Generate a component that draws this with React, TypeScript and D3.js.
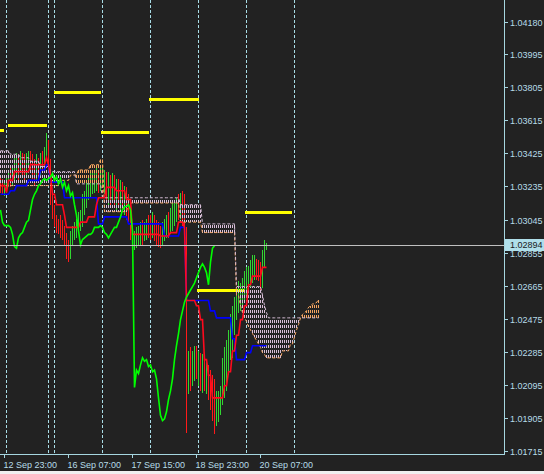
import React from "react";
import * as d3 from "d3";

const W = 544;
const H = 474;
const PLOT_R = 504;
const PLOT_B = 454;

// H1 bars, index 0 = 12 Sep 21:00
const closes = [
  1.0324, 1.0321, 1.0323, 1.0325, 1.0328, 1.0326, 1.0329, 1.0333, 1.0339, 1.0334,
  1.034, 1.0336, 1.0333, 1.0338, 1.0341, 1.0339, 1.0334, 1.0328, 1.0336, 1.0333,
  1.0339, 1.0336, 1.0342, 1.035, 1.0336, 1.0319, 1.031, 1.0303, 1.0301, 1.0301,
  1.0301, 1.03, 1.0296, 1.0289, 1.0288, 1.0294, 1.0296, 1.0297, 1.03, 1.0303,
  1.0304, 1.031, 1.0316, 1.0319, 1.0321, 1.0324, 1.0325, 1.0327, 1.0328, 1.0327,
  1.0328, 1.0329, 1.0331, 1.0327, 1.0329, 1.0325, 1.0328, 1.0323, 1.0326, 1.0321,
  1.0324, 1.0318, 1.032, 1.0313, 1.0307, 1.0298, 1.029, 1.0293, 1.0294, 1.0295,
  1.0296, 1.0296, 1.0297, 1.03, 1.03, 1.03, 1.0301, 1.03, 1.0297, 1.0296,
  1.0294, 1.0296, 1.0298, 1.03, 1.03, 1.0303, 1.0306, 1.031, 1.0312, 1.0312,
  1.0313, 1.031, 1.0298, 1.0208, 1.0218, 1.0216, 1.0221, 1.0225, 1.0223, 1.0224,
  1.022, 1.0221, 1.0217, 1.0218, 1.0213, 1.0202, 1.0192, 1.0189, 1.019, 1.0194,
  1.0201, 1.0206, 1.0213, 1.0224, 1.0232, 1.0239, 1.0247, 1.0252, 1.0257, 1.026,
  1.0262, 1.0264, 1.0266, 1.0268, 1.0271, 1.0274, 1.0277, 1.0279, 1.0277, 1.0274,
  1.0267, 1.028, 1.0288, 1.02894,
];

const highs = [
  1.033, 1.0328, 1.0327, 1.033, 1.0333, 1.0336, 1.0334, 1.034, 1.0343, 1.0342,
  1.0344, 1.0343, 1.0342, 1.0343, 1.0344, 1.0344, 1.0342, 1.0339, 1.0342, 1.034,
  1.0343, 1.0344, 1.0346, 1.0354, 1.035, 1.0339, 1.0321, 1.0313, 1.0307, 1.0305,
  1.0307, 1.0304, 1.0301, 1.0297, 1.0293, 1.0298, 1.0301, 1.0303, 1.0305, 1.0309,
  1.031, 1.0319, 1.0321, 1.0326, 1.033, 1.0332, 1.0332, 1.0333, 1.0334, 1.0333,
  1.0334, 1.0334, 1.0333, 1.0332, 1.0332, 1.033, 1.0331, 1.033, 1.0328, 1.0328,
  1.0327, 1.0326, 1.0324, 1.0323, 1.0319, 1.0316, 1.0301, 1.0298, 1.03, 1.0301,
  1.0303, 1.0304, 1.0303, 1.0305, 1.0307, 1.0307, 1.0309, 1.0307, 1.0304, 1.0303,
  1.0301, 1.0303, 1.0305, 1.0307, 1.0309, 1.0311, 1.0315, 1.0316, 1.0317, 1.0319,
  1.032, 1.0321, 1.0319, 1.03, 1.0229, 1.0231, 1.0229, 1.0232, 1.0232, 1.0229,
  1.0228, 1.0227, 1.0224, 1.0223, 1.0221, 1.0218, 1.0215, 1.0213, 1.0206, 1.0206,
  1.0209, 1.0225, 1.0231, 1.0235, 1.0241, 1.025, 1.0255, 1.026, 1.0264, 1.0269,
  1.0268, 1.0271, 1.0275, 1.0277, 1.0278, 1.0281, 1.0284, 1.0284, 1.0282, 1.0281,
  1.028, 1.0287, 1.0293, 1.0291,
];

const lows = [
  1.032, 1.0319, 1.0318, 1.032, 1.0323, 1.0323, 1.0324, 1.0327, 1.033, 1.0327,
  1.0332, 1.033, 1.0327, 1.033, 1.0334, 1.0333, 1.0328, 1.0324, 1.0326, 1.0326,
  1.033, 1.0332, 1.0333, 1.0339, 1.0332, 1.0313, 1.0305, 1.03, 1.0297, 1.0296,
  1.0294, 1.0293, 1.029, 1.0282, 1.028, 1.0282, 1.029, 1.0293, 1.0294, 1.0297,
  1.0298, 1.03, 1.0307, 1.0311, 1.0316, 1.0317, 1.0319, 1.032, 1.0321, 1.032,
  1.0321, 1.0323, 1.0319, 1.0316, 1.0313, 1.0313, 1.0316, 1.0311, 1.031, 1.0313,
  1.0309, 1.031, 1.0307, 1.0304, 1.0303, 1.0293, 1.0287, 1.0287, 1.0288, 1.029,
  1.029, 1.029, 1.0292, 1.0293, 1.0294, 1.0293, 1.0294, 1.0292, 1.029, 1.0289,
  1.0288, 1.029, 1.0292, 1.0294, 1.0294, 1.0296, 1.0298, 1.0301, 1.0303, 1.0304,
  1.0305, 1.0301, 1.0287, 1.0182, 1.0204, 1.0206, 1.0209, 1.0212, 1.0213, 1.0209,
  1.0206, 1.0205, 1.0206, 1.0204, 1.0201, 1.0195, 1.0189, 1.0181, 1.0186, 1.0188,
  1.0192, 1.0198, 1.0202, 1.0206, 1.0215, 1.0224, 1.0225, 1.0238, 1.0247, 1.0251,
  1.0252, 1.0255, 1.0258, 1.0261, 1.0263, 1.0265, 1.0268, 1.027, 1.027, 1.0269,
  1.0264, 1.0265, 1.0277, 1.0287,
];

const tenkan = [
  1.0324, 1.0324, 1.0324, 1.032, 1.0327, 1.0327, 1.0327,
  1.0332, 1.0332, 1.0332, 1.0332, 1.0332, 1.0332, 1.0332, 1.0332,
  1.0336, 1.0336, 1.0336, 1.0336, 1.0336, 1.0336, 1.0336, 1.0336,
  1.034, 1.0336, 1.033, 1.0319, 1.0319, 1.0313, 1.0313, 1.0313, 1.0313, 1.0307,
  1.03, 1.03, 1.03, 1.03, 1.03, 1.03, 1.03,
  1.0303, 1.0303, 1.0303, 1.0303, 1.0306, 1.0306, 1.0306, 1.0306, 1.0313,
  1.0317, 1.0317, 1.0317, 1.0317, 1.0323, 1.0323, 1.0323, 1.0323, 1.0323,
  1.0321, 1.0321, 1.0321, 1.0321, 1.0321, 1.0316, 1.0316, 1.0316,
  1.0296, 1.0296, 1.0296, 1.0296, 1.0296, 1.0296, 1.0296, 1.0296, 1.0296, 1.0296, 1.0296, 1.0296, 1.0296, 1.0296,
  1.0295, 1.0295, 1.0295, 1.0295, 1.0295, 1.0297, 1.0297, 1.0297, 1.0297,
  1.0303, 1.0303, 1.0303, 1.03,
  1.0258, 1.0258, 1.0258, 1.0258, 1.0258, 1.0255, 1.0255, 1.0247, 1.0247,
  1.0224, 1.0224, 1.0215, 1.0215, 1.0202, 1.0202, 1.0202, 1.0202, 1.0202, 1.0202,
  1.0209, 1.0209, 1.0217, 1.0217, 1.0229, 1.0229, 1.0238, 1.0238, 1.0247, 1.0247,
  1.0255, 1.0255, 1.0267, 1.0267, 1.0272, 1.0272, 1.0272, 1.0272, 1.0272,
  1.0277, 1.0277, 1.0277,
];

const kijun = [
  1.0319, 1.0319, 1.0319, 1.0319, 1.0319, 1.0321, 1.0321, 1.0321,
  1.0324, 1.0324, 1.0324, 1.0324, 1.0324, 1.0324,
  1.0327, 1.0327, 1.0327, 1.0327, 1.0327, 1.0327,
  1.0333, 1.0333, 1.0333, 1.0336, 1.0336,
  1.0326, 1.0326, 1.0326, 1.0326, 1.0326, 1.0326, 1.0326,
  1.0317, 1.0317, 1.0317, 1.0317, 1.0317, 1.0317, 1.0317, 1.0317, 1.0317,
  1.0317, 1.0317, 1.0317, 1.0317, 1.0317, 1.0317, 1.0317, 1.0317,
  1.0302, 1.0302, 1.0302,
  1.0306, 1.0306, 1.0306, 1.0306, 1.0306, 1.0306, 1.0306, 1.0306, 1.0306, 1.0306, 1.0306, 1.0306,
  1.0302, 1.0302, 1.0302, 1.0302, 1.0302, 1.0302, 1.0302, 1.0302, 1.0302,
  1.0302, 1.0302, 1.0302, 1.0302, 1.0302, 1.0302, 1.0302, 1.0302, 1.0302,
  1.0295, 1.0295, 1.0295, 1.0295, 1.0295, 1.0295, 1.0295, 1.0295,
  1.03, 1.03, 1.03,
  1.0258, 1.0258, 1.0258, 1.0258, 1.0258, 1.0258, 1.0258, 1.0258, 1.0258, 1.0258, 1.0258, 1.0258,
  1.0252, 1.0252, 1.0252,
  1.0248, 1.0248, 1.0248, 1.0248, 1.0248, 1.0248, 1.0248, 1.0248,
  1.0236, 1.0236, 1.0224, 1.0224, 1.0224, 1.0224, 1.0224,
  1.0228, 1.0228, 1.0228,
  1.0232, 1.0232, 1.0232, 1.0232, 1.0232, 1.0232, 1.0232, 1.0232,
];

// Senkou spans, plotted 26 bars ahead (indices run to 159)
const spanA = [
  1.0324, 1.0324, 1.0324, 1.0324, 1.0324, 1.0324, 1.0324, 1.0324, 1.0324, 1.0324,
  1.0324, 1.0324, 1.0324, 1.0324, 1.0324, 1.0324, 1.0324, 1.0324, 1.0324, 1.0324,
  1.0324, 1.0324, 1.0324, 1.0324, 1.0324, 1.0324, 1.0324, 1.0324, 1.0324, 1.0324,
  1.0327, 1.0327, 1.0327, 1.0327, 1.0327, 1.033, 1.033, 1.033, 1.033,
  1.0333, 1.0333, 1.0333, 1.0333, 1.0333, 1.0333,
  1.0336, 1.0336, 1.0336, 1.0336, 1.0336, 1.0339, 1.0339,
  1.0309, 1.0309, 1.0309, 1.0309, 1.0309, 1.0309, 1.0309, 1.0309, 1.0309, 1.0309, 1.0309, 1.0309,
  1.0314, 1.0314, 1.0314, 1.0314, 1.0314, 1.0314, 1.0314, 1.0314, 1.0314, 1.0314, 1.0314, 1.0314, 1.0314,
  1.0314, 1.0314, 1.0314, 1.0314, 1.0314, 1.0314, 1.0314, 1.0314, 1.0314, 1.0314, 1.0314, 1.0314, 1.0314,
  1.0303, 1.0303, 1.0303, 1.0303, 1.0303, 1.0303, 1.0303, 1.0303, 1.0303, 1.0303, 1.0303,
  1.0297, 1.0297, 1.0297, 1.0297, 1.0297, 1.0297, 1.0297, 1.0297, 1.0297,
  1.0297, 1.0297, 1.0297, 1.0297, 1.0297, 1.0297, 1.0297, 1.0297,
  1.0261, 1.0261, 1.0255, 1.0251, 1.0248, 1.0246, 1.0243, 1.0241, 1.0239, 1.0237,
  1.0235, 1.0233, 1.0231, 1.0228, 1.0227,
  1.0225, 1.0225, 1.0225, 1.0225, 1.0225, 1.0225, 1.0225, 1.0225,
  1.0229, 1.0229, 1.0229, 1.0229, 1.0233, 1.0233,
  1.0237, 1.0241, 1.0244, 1.0248, 1.025, 1.0251, 1.0252, 1.0254, 1.0255, 1.0256,
  1.0256, 1.0257, 1.0258,
];

const spanB = [
  1.0344, 1.0344, 1.0344, 1.0344, 1.0344, 1.0342, 1.0342, 1.0342, 1.0342, 1.0342,
  1.034, 1.034, 1.034, 1.034, 1.034, 1.0338, 1.0338, 1.0338, 1.0338, 1.0338,
  1.0335, 1.0335, 1.0335, 1.0335, 1.0335,
  1.0332, 1.0332, 1.0332, 1.0332, 1.0332, 1.0332, 1.0332, 1.0332, 1.0332, 1.0332, 1.0332, 1.0332, 1.0332,
  1.0325, 1.0325, 1.0325, 1.0325, 1.0325, 1.0325, 1.0325, 1.0325, 1.0325, 1.0325, 1.0325, 1.0325, 1.0325,
  1.0317, 1.0317, 1.0317, 1.0317, 1.0317, 1.0317, 1.0317, 1.0317, 1.0317, 1.0317,
  1.0317, 1.0317, 1.0317, 1.0317, 1.0317, 1.0317, 1.0317, 1.0317, 1.0317, 1.0317,
  1.0317, 1.0317, 1.0317, 1.0317, 1.0317, 1.0317, 1.0317, 1.0317, 1.0317, 1.0317,
  1.0317, 1.0317, 1.0317, 1.0317, 1.0317, 1.0317, 1.0317, 1.0317, 1.0317,
  1.0313, 1.0313, 1.0313, 1.0313, 1.0313, 1.0313, 1.0313, 1.0313, 1.0313, 1.0313, 1.0313,
  1.0302, 1.0302, 1.0302, 1.0302, 1.0302, 1.0302, 1.0302, 1.0302, 1.0302,
  1.0302, 1.0302, 1.0302, 1.0302, 1.0302, 1.0302, 1.0302, 1.0302,
  1.0266, 1.0266, 1.0266, 1.0266, 1.0266, 1.0266, 1.0266, 1.0266, 1.0266, 1.0266,
  1.0266, 1.0266, 1.0266,
  1.0261, 1.0255, 1.0251,
  1.0248, 1.0248, 1.0248, 1.0248, 1.0248, 1.0248, 1.0248, 1.0248, 1.0248, 1.0248,
  1.0248, 1.0248, 1.0248, 1.0248, 1.0248, 1.0248, 1.0248, 1.0248, 1.0248, 1.0248,
  1.0248, 1.0248, 1.0248, 1.0248, 1.0248, 1.0248,
];

const CHIKOU_SHIFT = 26;

const separatorBars = [3, 24, 27, 51, 75, 99, 123, 147];
const timeLabelBars = [2, 34, 66, 98, 130];
const timeLabels = ["12 Sep 23:00", "16 Sep 07:00", "17 Sep 15:00", "18 Sep 23:00", "20 Sep 07:00"];

const priceTicks = [
  "1.04180", "1.03995", "1.03805", "1.03615", "1.03425", "1.03235", "1.03045",
  "1.02855", "1.02665", "1.02475", "1.02285", "1.02095", "1.01905", "1.01715",
];
const lastPrice = 1.02894;

// daily level objects (yellow)
const levelStart = [-0.25, 3.5, 26.5, 50.25, 74.25, 98.25, 122.25];
const levelEnd = [1.5, 23.25, 50.25, 74.25, 99.25, 122.25, 145.75];
const levelPrice = [1.0356, 1.03587, 1.03776, 1.03546, 1.03736, 1.02638, 1.03086];

const BG = "#222222";
const AXIS = "#a6d6e0";
const TEXT = "#b6dce8";
const GRID = "#a8dce6";
const UP = "#32d632";
const DOWN = "#ff1a1a";
const TENKAN = "#ff0a1e";
const KIJUN = "#0000ff";
const CHIKOU = "#00ff00";
const THISTLE = "#d8bfd8";
const SANDY = "#f4a460";

export default function App() {
  const x = d3.scaleLinear().domain([0, 1]).range([0.5, 2.5]);
  const y = d3.scaleLinear().domain([1.0418, 1.01715]).range([22, 451]);

  const pathOf = (arr: number[], offset = 0) =>
    d3
      .line<number>()
      .x((_, i) => x(i + offset))
      .y((d) => y(d))(arr) || "";

  const chikou = closes.slice(CHIKOU_SHIFT);
  const priceY = Math.floor(y(lastPrice)) + 0.5;

  return (
    <div style={{ position: "fixed", left: 0, top: 0, width: W, height: H }}>
      <svg
        width={W}
        height={H}
        style={{ display: "block" }}
        fontFamily="'Liberation Sans', Arial, sans-serif"
      >
        <rect x={0} y={0} width={W} height={H} fill={BG} />
        <rect x={0} y={471} width={W} height={3} fill="#f0f0f0" />

        {separatorBars.map((b) => (
          <line
            key={"sep" + b}
            x1={x(b)}
            x2={x(b)}
            y1={0}
            y2={PLOT_B - 1}
            stroke={GRID}
            strokeDasharray="3 2"
            shapeRendering="crispEdges"
          />
        ))}

        {levelPrice.map((p, k) => (
          <line
            key={"lvl" + k}
            x1={Math.max(0, x(levelStart[k]))}
            x2={x(levelEnd[k])}
            y1={Math.round(y(p)) + 0.5}
            y2={Math.round(y(p)) + 0.5}
            stroke="#ffff00"
            strokeWidth={3}
            shapeRendering="crispEdges"
          />
        ))}

        {closes.map((c, i) => {
          const o = i > 0 ? closes[i - 1] : (highs[i] + lows[i]) / 2;
          const yh = Math.round(y(highs[i]));
          let yl = Math.round(y(lows[i]));
          if (yl <= yh) yl = yh + 1;
          return (
            <line
              key={"bar" + i}
              x1={x(i)}
              x2={x(i)}
              y1={yh}
              y2={yl}
              stroke={c > o ? UP : DOWN}
              strokeWidth={1}
              shapeRendering="crispEdges"
            />
          );
        })}

        {spanA.map((a, i) => {
          const b = spanB[i];
          const ya = Math.round(y(a));
          const yb = Math.round(y(b));
          const y1 = Math.min(ya, yb);
          const y2 = Math.max(ya, yb);
          if (y2 - y1 < 1) return null;
          return (
            <line
              key={"cl" + i}
              x1={x(i)}
              x2={x(i)}
              y1={y1}
              y2={y2}
              stroke={b > a ? THISTLE : SANDY}
              strokeDasharray="3 2"
              strokeDashoffset={y1 % 5}
              shapeRendering="crispEdges"
            />
          );
        })}
        <path d={pathOf(spanA)} fill="none" stroke={SANDY} strokeWidth={1} strokeDasharray="3 2" />
        <path d={pathOf(spanB)} fill="none" stroke={THISTLE} strokeWidth={1} strokeDasharray="3 2" />

        <path d={pathOf(kijun)} fill="none" stroke={KIJUN} strokeWidth={1.6} />
        <path d={pathOf(tenkan)} fill="none" stroke={TENKAN} strokeWidth={1.6} />
        <path d={pathOf(chikou)} fill="none" stroke={CHIKOU} strokeWidth={1.6} />

        <line x1={0} x2={PLOT_R} y1={priceY} y2={priceY} stroke="#c0c0c0" strokeWidth={1} shapeRendering="crispEdges" />

        <line x1={PLOT_R + 0.5} x2={PLOT_R + 0.5} y1={0} y2={PLOT_B + 0.5} stroke={AXIS} shapeRendering="crispEdges" />
        <line x1={0} x2={PLOT_R + 0.5} y1={PLOT_B + 0.5} y2={PLOT_B + 0.5} stroke={AXIS} shapeRendering="crispEdges" />

        {priceTicks.map((t) => {
          const ty = Math.round(y(+t)) + 0.5;
          return (
            <g key={"pt" + t}>
              <line x1={PLOT_R + 1} x2={PLOT_R + 4} y1={ty} y2={ty} stroke={AXIS} shapeRendering="crispEdges" />
              <text x={510} y={ty + 3.3} fontSize={9} fill={TEXT}>
                {t}
              </text>
            </g>
          );
        })}

        <rect x={505} y={239} width={39} height={12} fill="#b0dfea" />
        <text x={510} y={248.3} fontSize={9} fill="#1a1a1a">
          {lastPrice.toFixed(5)}
        </text>

        {timeLabelBars.map((b, k) => (
          <g key={"tl" + b}>
            <line x1={x(b)} x2={x(b)} y1={PLOT_B + 1} y2={PLOT_B + 4} stroke={AXIS} shapeRendering="crispEdges" />
            <text x={x(b) - 1} y={467.5} fontSize={9} fill={TEXT}>
              {timeLabels[k]}
            </text>
          </g>
        ))}
      </svg>
    </div>
  );
}
